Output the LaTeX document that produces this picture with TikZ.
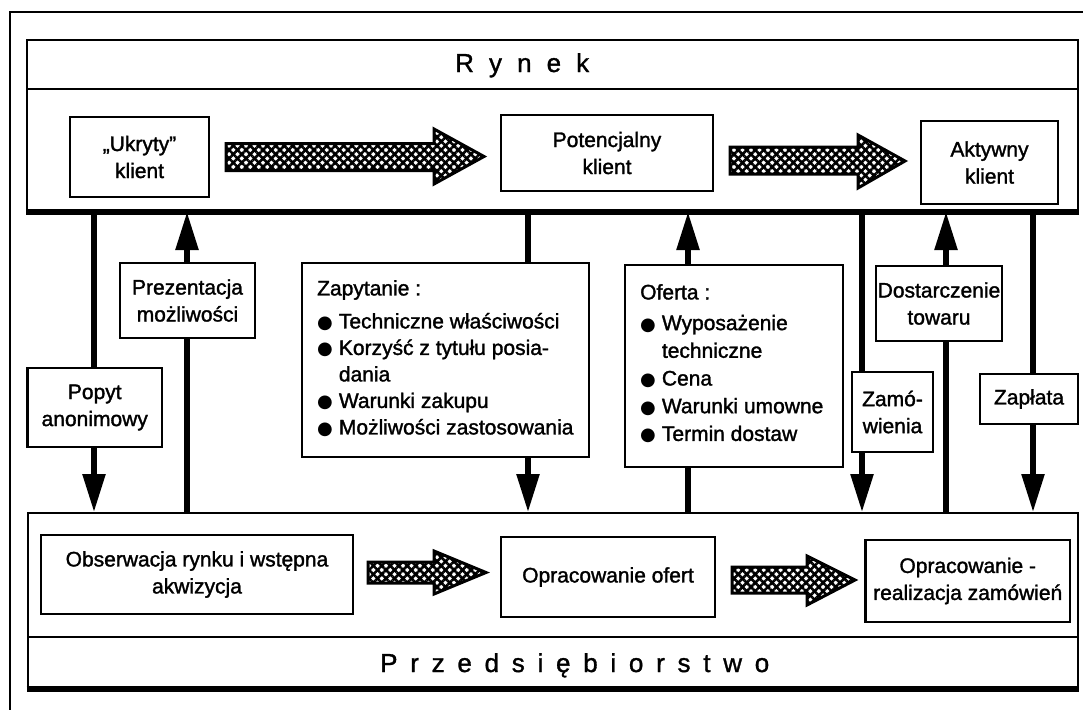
\documentclass[tikz,border=0pt]{standalone}
\usepackage{fontspec}
\setmainfont{Liberation Sans}[FakeBold=1.5]
\newfontfamily\symfont{DejaVu Sans}
\newfontfamily\spacedA{Liberation Sans}[LetterSpace=58,FakeBold=1.2]
\newfontfamily\spacedB{Liberation Sans}[LetterSpace=49,FakeBold=1.2]
\usetikzlibrary{arrows.meta,patterns.meta}
\newcommand{\bul}{{\symfont\fontsize{18}{18}\selectfont ●}\hspace{6pt}}
\begin{document}
\begin{tikzpicture}[x=1pt,y=-1pt,
  frame/.style={draw, line width=2pt, inner sep=0pt},
  box/.style={draw, line width=2.4pt, fill=white, inner sep=0pt, align=center,
    font=\fontsize{21}{27}\selectfont},
  listtext/.style={inner sep=0pt, align=left, anchor=north west},
  conn/.style={line width=5.5pt, -{Triangle[length=38pt,width=22pt]}},
  hatch/.style={draw, line width=3pt, line join=miter,
    preaction={pattern={Lines[angle=45,distance=6pt,line width=2.6pt]}},
    pattern={Lines[angle=-45,distance=6pt,line width=2.6pt]}}]
\useasboundingbox (0,0) rectangle (1083,710);
\fill[white] (0,0) rectangle (1083,710);
% outer frame
\draw[line width=1.8pt] (1083,12) -- (10,12) -- (10,710);
% market and company frames
\node[frame, minimum width=1051pt, minimum height=171pt] (rynek) at (552.5,125.5) {};
\draw[line width=2pt] (27,89) -- (1078,89);
\draw[line width=6pt] (rynek.south west) -- (rynek.south east);
\node[anchor=base west, inner sep=0pt, font=\spacedA\fontsize{26}{26}\selectfont] (rynekt) at (455,72) {Rynek};
\node[frame, minimum width=1050pt, minimum height=175pt] (przed) at (552.5,600.5) {};
\draw[line width=2pt] (28,637) -- (1077,637);
\draw[line width=6pt] (przed.south west) -- (przed.south east);
\node[anchor=base west, inner sep=0pt, font=\spacedB\fontsize{26}{26}\selectfont] (przedt) at (380,672) {Przedsiębiorstwo};
% connector positions
\coordinate (c1) at (94,0);
\coordinate (c2) at (187,0);
\coordinate (c3) at (528,0);
\coordinate (c4) at (688,0);
\coordinate (c5) at (862,0);
\coordinate (c6) at (946,0);
\coordinate (c7) at (1033,0);
\draw[conn] (c1 |- rynek.south) -- (c1 |- przed.north);
\draw[conn] (c2 |- przed.north) -- (c2 |- rynek.south);
\draw[conn] (c3 |- rynek.south) -- (c3 |- przed.north);
\draw[conn] (c4 |- przed.north) -- (c4 |- rynek.south);
\draw[conn] (c5 |- rynek.south) -- (c5 |- przed.north);
\draw[conn] (c6 |- przed.north) -- (c6 |- rynek.south);
\draw[conn] (c7 |- rynek.south) -- (c7 |- przed.north);
% top boxes
\node[box, minimum width=139pt, minimum height=80pt] (ukryty) at (139.5,157) {„Ukryty”\\klient};
\node[box, minimum width=212pt, minimum height=76pt] (potenc) at (607,153) {Potencjalny\\klient};
\node[box, minimum width=137pt, minimum height=83pt] (aktyw) at (989.5,162.5) {Aktywny\\klient};
% hatched arrows
\path[hatch] (226,143.5) -- (434,143.5) -- (434,129) -- (484,156.5) -- (434,184) -- (434,170.5) -- (226,170.5) -- cycle;
\path[hatch] (730,147) -- (858,147) -- (858,135) -- (905,161) -- (858,188) -- (858,174) -- (730,174) -- cycle;
\path[hatch] (368,562) -- (434,562) -- (434,551) -- (486,572.5) -- (434,594) -- (434,583) -- (368,583) -- cycle;
\path[hatch] (732,567) -- (807,567) -- (807,556) -- (855,580) -- (807,605) -- (807,593) -- (732,593) -- cycle;
% middle boxes
\node[box, minimum width=135pt, minimum height=75pt] (prez) at (187.5,300.5) {Prezentacja\\możliwości};
\node[box, minimum width=134.5pt, minimum height=79pt] (popyt) at (94.75,407.5) {Popyt\\anonimowy};
\node[box, minimum width=287pt, minimum height=194pt] (zap) at (445.5,360) {};
\node[listtext, font=\fontsize{21}{26.5}\selectfont] (zaptext) at (317,280) {Zapytanie :\\[6.5pt]
\bul Techniczne właściwości\\
\bul Korzyść z tytułu posia-\\
\phantom{\bul}dania\\
\bul Warunki zakupu\\
\bul Możliwości zastosowania};
\node[box, minimum width=218pt, minimum height=202pt] (ofer) at (734,366) {};
\node[listtext, font=\fontsize{21}{27.7}\selectfont] (ofertext) at (640,284) {Oferta :\\[3pt]
\bul Wyposażenie\\
\phantom{\bul}techniczne\\
\bul Cena\\
\bul Warunki umowne\\
\bul Termin dostaw};
\node[box, minimum width=126pt, minimum height=75pt] (dost) at (939,303.5) {Dostarczenie\\towaru};
\node[box, minimum width=81pt, minimum height=80pt] (zam) at (892.5,412) {Zamó-\\wienia};
\node[box, minimum width=98pt, minimum height=50pt] (zapl) at (1029,399) {Zapłata};
% bottom boxes
\node[box, minimum width=312pt, minimum height=79pt] (obs) at (197,574.5) {Obserwacja rynku i wstępna\\akwizycja};
\node[box, minimum width=214pt, minimum height=80pt] (oprof) at (608,577) {Opracowanie ofert};
\node[box, minimum width=204.5pt, minimum height=82pt] (oprreal) at (967.75,581) {Opracowanie -\\realizacja zamówień};
\end{tikzpicture}
\end{document}
